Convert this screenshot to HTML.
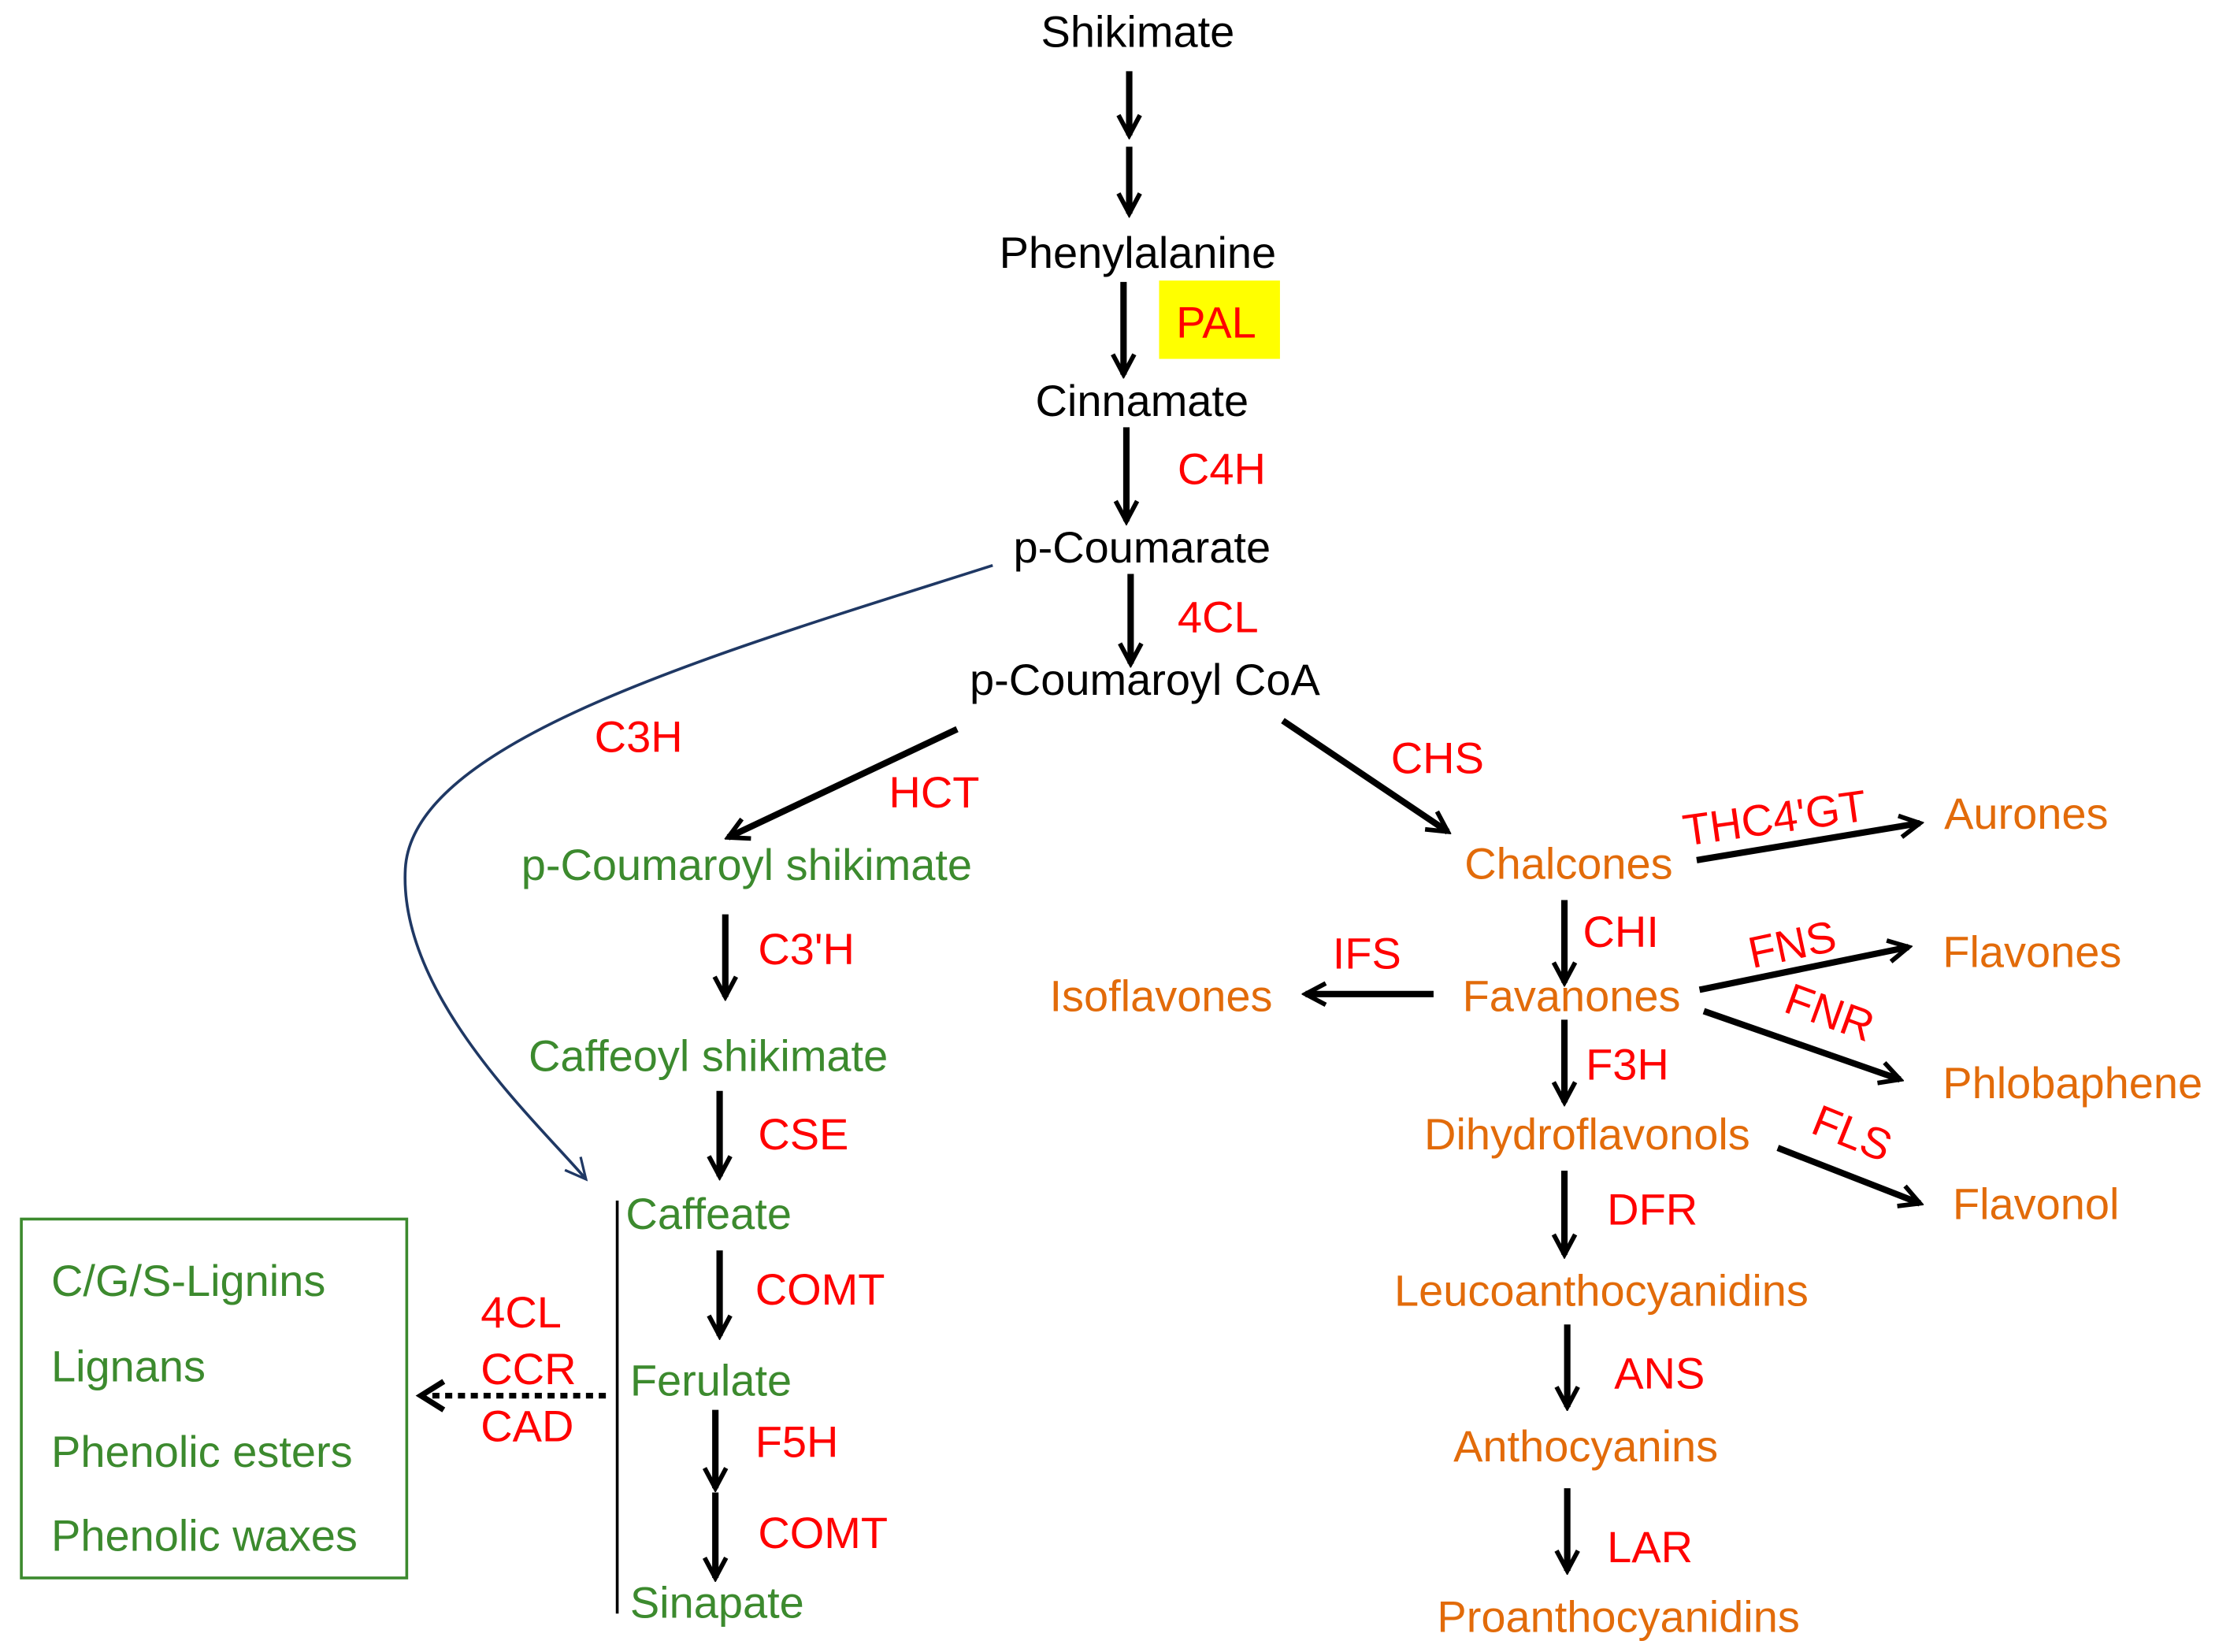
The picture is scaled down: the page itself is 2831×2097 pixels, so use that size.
<!DOCTYPE html>
<html><head><meta charset="utf-8"><style>
html,body{margin:0;padding:0;background:#fff;}
svg{display:block;}
text{font-family:"Liberation Sans",Arial,sans-serif;font-size:31px;}
.k{fill:#000}.r{fill:#ff0000}.g{fill:#3c8a2e}.o{fill:#e26b0a}
</style></head><body>
<svg width="2831" height="2097" viewBox="0 0 1568 1160" preserveAspectRatio="none" xmlns="http://www.w3.org/2000/svg">
<defs>
<marker id="a" viewBox="0 0 10 10" refX="8.5" refY="5" markerWidth="4.2" markerHeight="4.2" orient="auto" markerUnits="strokeWidth">
<path d="M1,1 L8.5,5 L1,9" fill="none" stroke="#000" stroke-width="1.7" stroke-linejoin="miter"/>
</marker>
<marker id="b" viewBox="0 0 10 10" refX="9" refY="5" markerWidth="9" markerHeight="9" orient="auto" markerUnits="strokeWidth">
<path d="M1,1 L9,5 L1,9" fill="none" stroke="#1f3864" stroke-width="1"/>
</marker>
</defs>
<g stroke="#000" stroke-width="4.5" fill="none" marker-end="url(#a)">
<line x1="794" y1="50" x2="794" y2="95"/>
<line x1="794" y1="103" x2="794" y2="150"/>
<line x1="790" y1="198" x2="790" y2="263"/>
<line x1="792" y1="300" x2="792" y2="366"/>
<line x1="795" y1="403" x2="795" y2="466"/>
<line x1="673" y1="512" x2="512" y2="588"/>
<line x1="902" y1="506" x2="1018" y2="584"/>
<line x1="510" y1="642" x2="510" y2="700"/>
<line x1="506" y1="766" x2="506" y2="826"/>
<line x1="506" y1="878" x2="506" y2="938"/>
<line x1="503" y1="990" x2="503" y2="1045"/>
<line x1="503" y1="1048" x2="503" y2="1108"/>
<line x1="1193" y1="604" x2="1350" y2="578"/>
<line x1="1100" y1="632" x2="1100" y2="690"/>
<line x1="1008" y1="698" x2="918" y2="698"/>
<line x1="1195" y1="695" x2="1342" y2="665"/>
<line x1="1198" y1="710" x2="1336" y2="758"/>
<line x1="1100" y1="716" x2="1100" y2="774"/>
<line x1="1250" y1="806" x2="1350" y2="845"/>
<line x1="1100" y1="822" x2="1100" y2="881"/>
<line x1="1102" y1="930" x2="1102" y2="988"/>
<line x1="1102" y1="1045" x2="1102" y2="1103"/>
</g>
<line x1="426" y1="980" x2="300" y2="980" stroke="#000" stroke-width="4" stroke-dasharray="5,4"/>
<path d="M312,970 L296,980 L312,990" fill="none" stroke="#000" stroke-width="4"/>
<line x1="434" y1="843" x2="434" y2="1133" stroke="#000" stroke-width="2"/>
<path d="M698,397 C 500,460 290,520 285,610 C 280,700 380,790 412,828" fill="none" stroke="#1f3864" stroke-width="2" marker-end="url(#b)"/>
<rect x="815" y="197" width="85" height="55" fill="#ffff00"/>
<rect x="15" y="856" width="271" height="252" fill="none" stroke="#3c8a2e" stroke-width="2"/>

<g class="k" text-anchor="middle">
<text x="800" y="33">Shikimate</text>
<text x="800" y="188">Phenylalanine</text>
<text x="803" y="292">Cinnamate</text>
<text x="803" y="395">p-Coumarate</text>
<text x="805" y="488">p-Coumaroyl CoA</text>
</g>
<g class="r">
<text x="827" y="237">PAL</text>
<text x="828" y="340">C4H</text>
<text x="828" y="444">4CL</text>
<text x="418" y="528">C3H</text>
<text x="625" y="567">HCT</text>
<text x="978" y="543">CHS</text>
<text x="533" y="677">C3'H</text>
<text x="533" y="807">CSE</text>
<text x="531" y="916">COMT</text>
<text x="531" y="1023">F5H</text>
<text x="533" y="1087">COMT</text>
<text x="338" y="932">4CL</text>
<text x="338" y="972">CCR</text>
<text x="338" y="1012">CAD</text>
<text x="1113" y="665">CHI</text>
<text x="937" y="680">IFS</text>
<text x="1115" y="758">F3H</text>
<text x="1130" y="860">DFR</text>
<text x="1135" y="975">ANS</text>
<text x="1130" y="1097">LAR</text>
<text transform="translate(1185,594) rotate(-8)">THC4'GT</text>
<text transform="translate(1232,680) rotate(-12)">FNS</text>
<text transform="translate(1253,710) rotate(20)">FNR</text>
<text transform="translate(1272,795) rotate(22)">FLS</text>
</g>
<g class="g">
<text x="525" y="618" text-anchor="middle">p-Coumaroyl shikimate</text>
<text x="498" y="752" text-anchor="middle">Caffeoyl shikimate</text>
<text x="440" y="863">Caffeate</text>
<text x="443" y="980">Ferulate</text>
<text x="443" y="1136">Sinapate</text>
<text x="36" y="910">C/G/S-Lignins</text>
<text x="36" y="970">Lignans</text>
<text x="36" y="1030">Phenolic esters</text>
<text x="36" y="1089">Phenolic waxes</text>
</g>
<g class="o">
<text x="1103" y="617" text-anchor="middle">Chalcones</text>
<text x="1105" y="710" text-anchor="middle">Favanones</text>
<text x="1116" y="807" text-anchor="middle">Dihydroflavonols</text>
<text x="1126" y="917" text-anchor="middle">Leucoanthocyanidins</text>
<text x="1115" y="1026" text-anchor="middle">Anthocyanins</text>
<text x="1138" y="1146" text-anchor="middle">Proanthocyanidins</text>
<text x="738" y="710">Isoflavones</text>
<text x="1367" y="582">Aurones</text>
<text x="1366" y="679">Flavones</text>
<text x="1366" y="771">Phlobaphene</text>
<text x="1373" y="856">Flavonol</text>
</g>
</svg>
</body></html>
